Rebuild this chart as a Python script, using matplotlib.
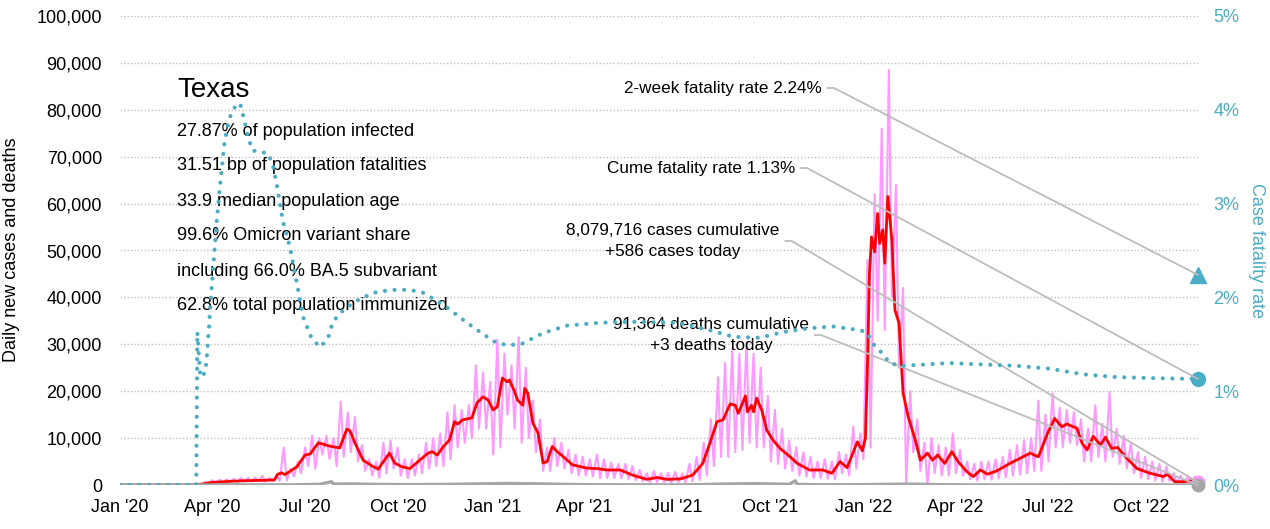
import matplotlib
matplotlib.use("Agg")
import matplotlib.pyplot as plt
import matplotlib.dates as mdates
import matplotlib.ticker as mticker
from matplotlib import font_manager
import numpy as np
import pandas as pd

# --- fonts -----------------------------------------------------------------
installed = {f.name for f in font_manager.fontManager.ttflist}
FONT = "Liberation Sans Narrow" if "Liberation Sans Narrow" in installed else "Liberation Sans"
plt.rcParams["font.family"] = [FONT, "DejaVu Sans"]

# --- data -------------------------------------------------------------------
state = "Texas"
info_lines = [
    "27.87% of population infected",
    "31.51 bp of population fatalities",
    "33.9 median population age",
    "99.6% Omicron variant share",
    "including 66.0% BA.5 subvariant",
    "62.8% total population immunized",
]
last_date = "2022-11-26"
cfr_2wk = 2.24
cfr_cume = 1.13
cases_cum = 8079716
cases_today = 586
deaths_cum = 91364
deaths_today = 3

# 7-day average of new cases
avg_dates = [
    "2020-01-01", "2020-03-10", "2020-03-20", "2020-04-01", "2020-04-08", "2020-04-20",
    "2020-05-01", "2020-05-21", "2020-06-01", "2020-06-04", "2020-06-08", "2020-06-11",
    "2020-06-23", "2020-07-01", "2020-07-06", "2020-07-14", "2020-07-25", "2020-08-04",
    "2020-08-11", "2020-08-14", "2020-08-19", "2020-08-27", "2020-09-06", "2020-09-11",
    "2020-09-16", "2020-09-22", "2020-09-27", "2020-10-04", "2020-10-12", "2020-10-19",
    "2020-10-30", "2020-11-03", "2020-11-08", "2020-11-14", "2020-11-20", "2020-11-25",
    "2020-11-28", "2020-12-03", "2020-12-12", "2020-12-17", "2020-12-23", "2020-12-28",
    "2021-01-02", "2021-01-06", "2021-01-11", "2021-01-16", "2021-01-18", "2021-01-23",
    "2021-01-26", "2021-01-31", "2021-02-02", "2021-02-05", "2021-02-10", "2021-02-15",
    "2021-02-20", "2021-02-24", "2021-03-01", "2021-03-06", "2021-03-12", "2021-03-21",
    "2021-04-04", "2021-04-14", "2021-04-24", "2021-05-07", "2021-05-19", "2021-06-02",
    "2021-06-12", "2021-06-22", "2021-07-05", "2021-07-17", "2021-07-27", "2021-08-03",
    "2021-08-10", "2021-08-16", "2021-08-23", "2021-08-28", "2021-08-31", "2021-09-07",
    "2021-09-09", "2021-09-13", "2021-09-15", "2021-09-18", "2021-09-23", "2021-09-28",
    "2021-10-04", "2021-10-11", "2021-10-21", "2021-10-28", "2021-11-09", "2021-11-22",
    "2021-12-01", "2021-12-09", "2021-12-16", "2021-12-26", "2021-12-31", "2022-01-03",
    "2022-01-05", "2022-01-07", "2022-01-09", "2022-01-12", "2022-01-15", "2022-01-17",
    "2022-01-20", "2022-01-22", "2022-01-25", "2022-01-29", "2022-02-01", "2022-02-05",
    "2022-02-09", "2022-02-14", "2022-02-21", "2022-02-26", "2022-03-05", "2022-03-10",
    "2022-03-15", "2022-03-22", "2022-03-29", "2022-04-04", "2022-04-13", "2022-04-19",
    "2022-04-26", "2022-05-03", "2022-05-12", "2022-05-25", "2022-06-04", "2022-06-14",
    "2022-06-22", "2022-07-01", "2022-07-08", "2022-07-15", "2022-07-20", "2022-07-30",
    "2022-08-04", "2022-08-09", "2022-08-15", "2022-08-22", "2022-08-27", "2022-09-02",
    "2022-09-08", "2022-09-17", "2022-09-27", "2022-10-10", "2022-10-23", "2022-10-27",
    "2022-11-03", "2022-11-11", "2022-11-26",
]
avg_cases = [
    0, 0, 150, 550, 650, 800,
    900, 1000, 1100, 2300, 2600, 2200,
    3900, 6400, 6600, 9000, 8300, 7900,
    11900, 11600, 9000, 5300, 3900, 3400,
    5000, 6800, 4700, 3900, 3500, 4800,
    6800, 7100, 6400, 8200, 9600, 13500,
    13000, 13900, 14300, 17500, 18800, 18100,
    16000, 16700, 22800, 22000, 22400, 19900,
    18100, 17000, 20600, 19600, 13200, 11100,
    4700, 5000, 8200, 7100, 6000, 4300,
    3600, 3500, 3200, 3200, 2100, 1200,
    1600, 1200, 1300, 2100, 4600, 8900,
    13500, 13900, 17300, 17000, 15300, 19000,
    15600, 17000, 15600, 18500, 16000, 11700,
    9600, 7800, 6000, 4600, 3200, 3200,
    2500, 5000, 3700, 9200, 7300, 10000,
    26000, 45200, 52900, 49700, 57900, 51500,
    54400, 47300, 61500, 52200, 37300, 34500,
    19600, 14600, 9600, 5300, 6800, 5300,
    6400, 4600, 7100, 5000, 2800, 1800,
    3200, 2300, 3000, 4600, 5700, 6800,
    6000, 11000, 14200, 12400, 13000, 12100,
    8900, 7500, 10400, 8500, 10200, 7800,
    8000, 5700, 3500, 2500, 1800, 2300,
    700, 700, 1000,
]

# daily new cases: weekly high / low readings, weeks starting 2020-03-02
daily_week0 = "2020-03-02"
daily_hi = [
    50, 60, 200, 700, 1000, 1100, 1200, 1300, 1500, 1500,
    1600, 1900, 1500, 2000, 8000, 3500, 5000, 8000, 10500, 10000,
    10500, 10000, 17800, 15500, 14500, 8500, 5500, 5000, 9000, 9500,
    8000, 5500, 5500, 6500, 9000, 10000, 11000, 15500, 17000, 16000,
    17000, 25500, 24000, 22000, 31000, 28000, 25500, 31500, 25000, 18000,
    14000, 8000, 10000, 9000, 7500, 6500, 6000, 5500, 6500, 5500,
    4800, 4500, 4500, 4000, 3200, 2500, 3000, 2500, 2600, 2800,
    2500, 4500, 6000, 9000, 14000, 23000, 26000, 29000, 28000, 30500,
    28000, 25000, 19000, 16000, 12000, 9500, 8000, 7000, 6000, 5000,
    5500, 5000, 7000, 6500, 12500, 11000, 48000, 62000, 76000, 88500,
    64000, 42000, 20000, 14000, 9000, 10000, 8500, 8000, 11000, 7500,
    5000, 4500, 5000, 5000, 5500, 6000, 7500, 8500, 9500, 10000,
    18000, 15000, 19500, 16500, 16000, 15500, 14000, 12000, 17000, 13000,
    19800, 12000, 10500, 9000, 7000, 6000, 5000, 4500, 4000, 2500,
    2000, 2000, 1800,
]
daily_lo = [
    0, 20, 80, 400, 500, 600, 700, 600, 700, 700,
    800, 700, 800, 900, 1000, 1800, 2500, 4000, 3500, 6500,
    5500, 4000, 6000, 7000, 5000, 3000, 2000, 1500, 2500, 3500,
    2000, 1500, 2000, 2500, 3500, 4000, 4000, 5500, 8000, 9000,
    10000, 12000, 12000, 6500, 8000, 15000, 12000, 9000, 10000, 7000,
    3000, 3000, 4000, 3500, 2500, 2000, 2000, 1800, 1500, 1500,
    1500, 1400, 1200, 1000, 800, 600, 600, 500, 500, 600,
    500, 800, 1000, 2000, 4000, 6000, 6000, 7000, 7500, 9000,
    8000, 8000, 5000, 4500, 3500, 3000, 2000, 1800, 1500, 1500,
    1300, 1200, 2500, 2000, 3500, 5500, 8000, 35000, 33000, 40000,
    25000, 500, 7000, 3000, 0, 2500, 2000, 2000, 2500, 2000,
    1200, 900, 1200, 1100, 1400, 1600, 2000, 2200, 2500, 3000,
    3000, 5000, 8000, 8000, 9000, 8500, 5000, 5000, 6000, 5000,
    6000, 4500, 3500, 2500, 1500, 1200, 1000, 700, 800, 300,
    200, 300, 500,
]

# daily deaths
death_dates = [
    "2020-01-01", "2020-03-15", "2020-04-15", "2020-05-15", "2020-06-15", "2020-07-15",
    "2020-07-27", "2020-07-29", "2020-08-15", "2020-09-15", "2020-10-15", "2020-11-15",
    "2020-12-15", "2021-01-15", "2021-02-15", "2021-03-15", "2021-04-15", "2021-05-15",
    "2021-06-15", "2021-07-15", "2021-08-15", "2021-09-15", "2021-10-20", "2021-10-26",
    "2021-10-28", "2021-11-15", "2021-12-15", "2022-01-15", "2022-02-15", "2022-03-15",
    "2022-04-15", "2022-05-15", "2022-06-15", "2022-07-15", "2022-08-15", "2022-09-15",
    "2022-10-15", "2022-11-26",
]
deaths = [
    0, 5, 45, 35, 30, 150,
    700, 200, 230, 120, 90, 130,
    230, 330, 250, 130, 50, 40,
    25, 40, 200, 300, 150, 900,
    140, 60, 50, 120, 200, 80,
    20, 10, 15, 40, 50, 40,
    20, 3,
]

# case fatality rate, %
cfr_dates = [
    "2020-01-01", "2020-03-16", "2020-03-17", "2020-03-20", "2020-03-25", "2020-03-27",
    "2020-03-31", "2020-04-05", "2020-04-08", "2020-04-13", "2020-04-18", "2020-04-23",
    "2020-04-28", "2020-04-30", "2020-05-05", "2020-05-10", "2020-05-16", "2020-05-25",
    "2020-05-30", "2020-06-04", "2020-06-09", "2020-06-16", "2020-06-23", "2020-06-29",
    "2020-07-08", "2020-07-16", "2020-07-24", "2020-07-28", "2020-08-04", "2020-08-17",
    "2020-08-27", "2020-09-10", "2020-09-25", "2020-10-12", "2020-10-25", "2020-11-14",
    "2020-11-30", "2020-12-07", "2020-12-27", "2021-01-06", "2021-01-18", "2021-01-31",
    "2021-02-20", "2021-03-16", "2021-04-17", "2021-05-19", "2021-07-02", "2021-08-03",
    "2021-08-26", "2021-09-21", "2021-10-14", "2021-11-07", "2021-12-02", "2021-12-29",
    "2022-01-05", "2022-01-10", "2022-01-19", "2022-01-27", "2022-02-06", "2022-02-23",
    "2022-03-27", "2022-06-01", "2022-07-03", "2022-08-05", "2022-09-07", "2022-10-10",
    "2022-11-26",
]
cfr = [
    0, 0, 1.63, 1.15, 1.2, 1.45,
    2.08, 2.79, 3.15, 3.68, 3.92, 4.03,
    4.07, 3.99, 3.75, 3.57, 3.55, 3.54,
    3.43, 3.15, 2.82, 2.54, 2.15, 1.79,
    1.55, 1.47, 1.58, 1.73, 1.83, 1.94,
    2.0, 2.06, 2.08, 2.08, 2.05, 1.92,
    1.79, 1.73, 1.58, 1.51, 1.49, 1.51,
    1.62, 1.7, 1.73, 1.74, 1.73, 1.65,
    1.58, 1.57, 1.63, 1.67, 1.69, 1.65,
    1.62, 1.51, 1.41, 1.3, 1.27, 1.28,
    1.3, 1.27, 1.24, 1.18, 1.15, 1.14,
    1.13,
]

# --- styling ---------------------------------------------------------------
PINK = "#ff99ff"
RED = "#ff0000"
TEAL = "#4bacc6"
GREY = "#a6a6a6"
LEADER = "#bdbdbd"
FS = 13
NOTE_FS = 12.3

W, H = 1270, 529
fig = plt.figure(figsize=(W / 100, H / 100), dpi=100)
ax = fig.add_axes([120 / W, 44 / H, 1078 / W, 469 / H])
ax2 = ax.twinx()

# daily cases as a zigzag of weekly highs and lows
week_starts = pd.date_range(daily_week0, periods=len(daily_hi), freq="7D")
d_x, d_y = [], []
for ws, hi, lo in zip(week_starts, daily_hi, daily_lo):
    d_x += [ws + pd.Timedelta(days=2), ws + pd.Timedelta(days=5)]
    d_y += [hi, lo]
ax.plot(d_x, d_y, color=PINK, lw=1.5, zorder=2)
ax.plot(pd.to_datetime(avg_dates), avg_cases, color=RED, lw=2, zorder=3)
ax.plot(pd.to_datetime(death_dates), deaths, color=GREY, lw=2.4, zorder=3)

end = pd.Timestamp(last_date)
ax.plot([end], [cases_today], "o", color=PINK, ms=9, clip_on=False, zorder=5)
ax.plot([end], [deaths_today], "o", color=GREY, ms=9, clip_on=False, zorder=5)

ax2.plot(pd.to_datetime(cfr_dates), cfr, color=TEAL, lw=3,
         linestyle=(0, (0.01, 2.3)), dash_capstyle="round", zorder=4)
ax2.plot([end], [cfr_cume], "o", color=TEAL, ms=10, clip_on=False)
ax2.plot([end], [cfr_2wk], "^", color=TEAL, ms=12, clip_on=False)

# axes
ax.set_xlim(pd.Timestamp("2020-01-01"), end)
ax.set_ylim(0, 100000)
ax2.set_ylim(0, 5)
ax.yaxis.set_major_locator(mticker.MultipleLocator(10000))
ax.yaxis.set_major_formatter(mticker.FuncFormatter(lambda v, p: f"{int(v):,}"))
ax2.yaxis.set_major_locator(mticker.MultipleLocator(1))
ax2.yaxis.set_major_formatter(mticker.FuncFormatter(lambda v, p: f"{int(v)}%"))
ax.xaxis.set_major_locator(mdates.MonthLocator(bymonth=[1, 4, 7, 10]))
ax.xaxis.set_major_formatter(mdates.DateFormatter("%b '%y"))

ax.yaxis.grid(True, color="#c0c0c0", linestyle=(0, (1, 1.5)), lw=1)
ax.set_axisbelow(True)
for a in (ax, ax2):
    for s in a.spines.values():
        s.set_visible(False)
ax.tick_params(axis="y", length=0, pad=13, labelsize=FS)
ax.tick_params(axis="x", length=0, pad=10, labelsize=FS)
ax2.tick_params(axis="y", length=0, pad=11, labelsize=FS, labelcolor=TEAL)

fig.text(12 / W, 1 - 250 / H, "Daily new cases and deaths", rotation=90,
         ha="center", va="center", fontsize=FS)
fig.text(1257 / W, 1 - 251 / H, "Case fatality rate", rotation=270,
         ha="center", va="center", fontsize=FS, color=TEAL)

# state info block
ax.text((177 - 120) / 1078, (485 - 90) / 469, state, transform=ax.transAxes,
        fontsize=20, ha="left", va="center", zorder=6)
for i, line in enumerate(info_lines):
    ax.text((177 - 120) / 1078, (485 - 131 - 35 * i) / 469, line,
            transform=ax.transAxes, fontsize=FS, ha="left", va="center", zorder=6)

# leader-line annotations
def leader(a, xy, text, tx, ty, ha):
    a.annotate(text, xy=xy, xytext=((tx - 120) / 1078, (485 - ty) / 469),
               textcoords="axes fraction", ha=ha, va="center", fontsize=NOTE_FS,
               multialignment="center", linespacing=1.45, zorder=7,
               arrowprops=dict(arrowstyle="-", color=LEADER, lw=1.3,
                               relpos=(1, 0.5), shrinkA=2, shrinkB=0,
                               connectionstyle="arc,angleA=0,armA=12,angleB=0,armB=0,rad=0"))

leader(ax2, (end, cfr_2wk), f"2-week fatality rate {cfr_2wk:.2f}%", 822, 88, "right")
leader(ax2, (end, cfr_cume), f"Cume fatality rate {cfr_cume:.2f}%", 795, 168, "right")
leader(ax, (end, cases_today),
       f"{cases_cum:,} cases cumulative\n+{cases_today:,} cases today", 673, 241, "center")
leader(ax, (end, deaths_today),
       f"{deaths_cum:,} deaths cumulative\n+{deaths_today} deaths today", 711, 335, "center")

fig.savefig("out.png", dpi=100)
